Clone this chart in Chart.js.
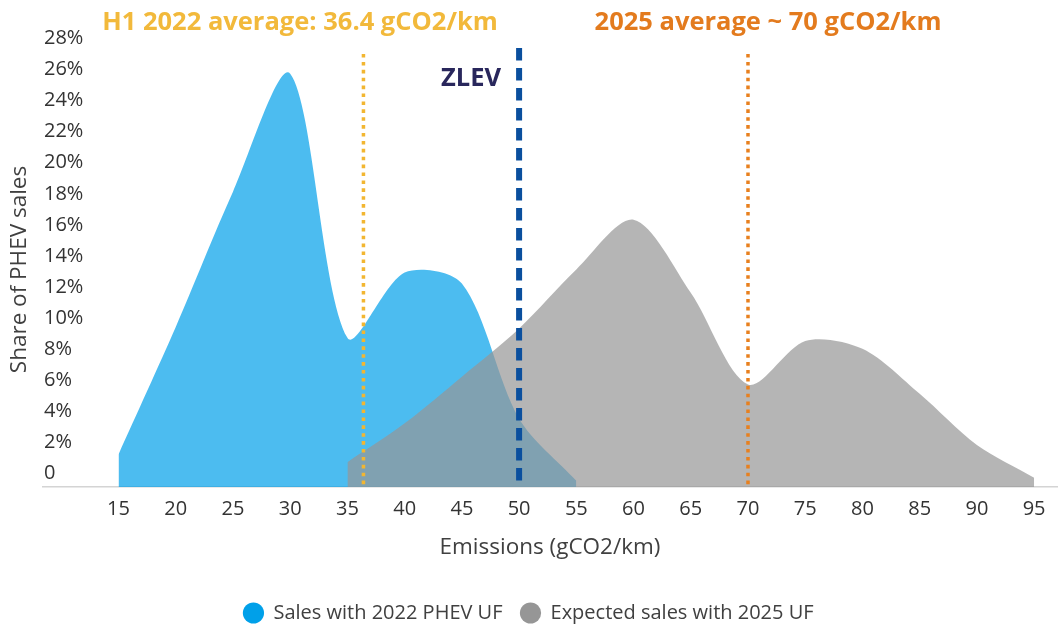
<!DOCTYPE html>
<html>
<head>
<meta charset="utf-8">
<script src="https://cdn.jsdelivr.net/npm/chart.js@4.4.1/dist/chart.umd.min.js"></script>
<style>
  html, body { margin: 0; padding: 0; background: #fff; }
</style>
</head>
<body>
<canvas id="chart" width="1058" height="628"></canvas>
<script>
// emissions bins (gCO2/km) and share of PHEV sales (%)
const sales2022X = [15, 20, 25, 30, 35, 40, 45, 50, 55];
const sales2022Y = [2.1, 10.3, 19.0, 26.6, 9.6, 13.8, 13.1, 4.4, 0.4];
const sales2025X = [35, 40, 45, 50, 55, 60, 65, 70, 75, 80, 85, 90, 95];
const sales2025Y = [1.6, 4.1, 7.1, 10.2, 14.0, 17.2, 12.5, 6.6, 9.4, 8.9, 6.0, 2.7, 0.6];
const seriesNames = ['Sales with 2022 PHEV UF', 'Expected sales with 2025 UF'];
const xTicks = [15, 20, 25, 30, 35, 40, 45, 50, 55, 60, 65, 70, 75, 80, 85, 90, 95];
const yTicks = [0, 2, 4, 6, 8, 10, 12, 14, 16, 18, 20, 22, 24, 26, 28];

const avg2022 = 36.4;
const avg2025 = 70;
const zlevLimit = 50;
const avg2022Label = 'H1 2022 average: 36.4 gCO2/km';
const avg2025Label = '2025 average ~ 70 gCO2/km';

const FONT = '"Open Sans", "DejaVu Sans", sans-serif';
const solidColors = ['rgb(0,160,233)', 'rgb(150,150,150)'];
const fillColors = ['rgba(0,160,233,0.7)', 'rgba(150,150,150,0.7)'];

function toPoints(xs, ys){
    return xs.map((x, i) => ({ x, y: ys[i] }));
}

const refLines = {
    id: 'refLines',
    afterDatasetsDraw(chart){
        const { ctx, chartArea, scales: { x } } = chart;
        function vline(value, color, width, dash, top, bottom){
            const px = x.getPixelForValue(value);
            ctx.save();
            ctx.strokeStyle = color;
            ctx.lineWidth = width;
            ctx.setLineDash(dash);
            ctx.beginPath();
            ctx.moveTo(px, top);
            ctx.lineTo(px, bottom);
            ctx.stroke();
            ctx.restore();
        }
        vline(avg2022, '#F2B631', 3.5, [3.6, 4.3], chartArea.top + 2, chartArea.bottom - 2);
        vline(avg2025, '#E8801E', 3.5, [3.6, 4.3], chartArea.top + 2, chartArea.bottom - 2);
        vline(zlevLimit, '#0A4F9E', 6, [12.5, 7.5], chartArea.top - 4, chartArea.bottom);
    },
    afterDraw(chart){
        const { ctx } = chart;
        ctx.save();
        ctx.font = 'bold 25.5px ' + FONT;
        ctx.textBaseline = 'alphabetic';
        ctx.textAlign = 'center';
        ctx.fillStyle = '#F2B93B';
        ctx.fillText(avg2022Label, 300, 30);
        ctx.fillStyle = '#E37B1E';
        ctx.fillText(avg2025Label, 768, 30);
        ctx.textAlign = 'right';
        ctx.fillStyle = '#29275C';
        ctx.fillText('ZLEV', 501, 86);
        ctx.restore();
    }
};

new Chart(document.getElementById('chart'), {
    type: 'line',
    data: {
        datasets: [
            { label: seriesNames[0], data: toPoints(sales2022X, sales2022Y), order: 1,
              backgroundColor: fillColors[0], borderColor: 'transparent', borderWidth: 0,
              fill: 'origin', pointRadius: 0, tension: 0.3 },
            { label: seriesNames[1], data: toPoints(sales2025X, sales2025Y), order: 0,
              backgroundColor: fillColors[1], borderColor: 'transparent', borderWidth: 0,
              fill: 'origin', pointRadius: 0, tension: 0.3 }
        ]
    },
    options: {
        responsive: false,
        animation: false,
        devicePixelRatio: 1,
        layout: { padding: { top: 52, right: 1, bottom: -5, left: 0 } },
        plugins: {
            tooltip: { enabled: false },
            legend: {
                position: 'bottom',
                labels: {
                    font: { family: FONT, size: 20 },
                    color: '#404040',
                    usePointStyle: true,
                    boxHeight: 15,
                    padding: 18,
                    generateLabels: (chart) => seriesNames.map((name, i) => ({
                        text: name, fillStyle: solidColors[i], strokeStyle: solidColors[i],
                        lineWidth: 0, pointStyle: 'circle', datasetIndex: i,
                        hidden: !chart.isDatasetVisible(i), fontColor: '#404040'
                    }))
                }
            }
        },
        scales: {
            x: {
                type: 'linear',
                min: 8.4,
                max: 97,
                afterBuildTicks: (scale) => { scale.ticks = xTicks.map(v => ({ value: v })); },
                grid: { display: false, drawTicks: false },
                border: { display: true, color: '#D4D4D4', width: 1.5 },
                ticks: { font: { family: FONT, size: 20 }, color: '#333333', padding: 10, maxRotation: 0, autoSkip: false },
                title: { display: true, text: 'Emissions (gCO2/km)', font: { family: FONT, size: 22.5 }, color: '#404040',
                         padding: { top: 3, bottom: 24 } }
            },
            y: {
                min: 0,
                max: 28,
                afterBuildTicks: (scale) => { scale.ticks = yTicks.map(v => ({ value: v })); },
                afterFit: (scale) => { scale.width = 43; },
                grid: { display: false, drawTicks: false },
                border: { display: false },
                ticks: { mirror: true, padding: 1, labelOffset: -13.5, font: { family: FONT, size: 20 }, color: '#333333',
                         callback: (v) => v === 0 ? '0' : v + '%' },
                title: { display: true, text: 'Share of PHEV sales', font: { family: FONT, size: 22.5 }, color: '#404040',
                         padding: { top: 6, bottom: 0 } }
            }
        }
    },
    plugins: [refLines]
});
</script>
</body>
</html>
